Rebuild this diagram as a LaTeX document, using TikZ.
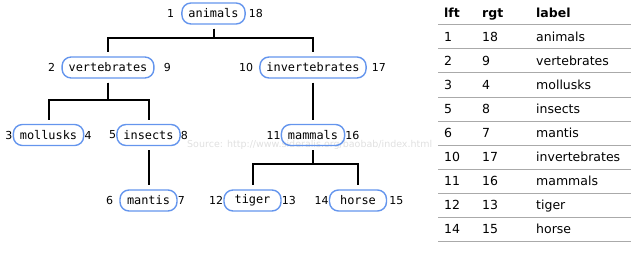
\documentclass[tikz,border=0pt]{standalone}
\usepackage{fontspec}
\setmainfont{DejaVu Sans}
\setmonofont{DejaVu Sans Mono}
\usetikzlibrary{positioning}
\definecolor{boxblue}{RGB}{100,149,237}
\definecolor{rulegray}{RGB}{170,170,170}
\tikzset{
    taxon/.style={rectangle, rounded corners=9pt, draw=boxblue, line width=1.4pt, minimum width=57pt, minimum height=21pt, inner xsep=6.5pt, font=\fontsize{11.9}{14}\ttfamily, label distance=4pt},
    branch/.style={line width=2pt, shorten <=4pt, shorten >=4pt},
    cell/.style={anchor=base west, inner sep=0pt, font=\fontsize{12.5}{15}\selectfont},
    head/.style={cell, font=\fontsize{12.5}{15}\bfseries},
    rule/.style={draw=rulegray, line width=1pt}
}

\begin{document}
\begin{tikzpicture}[x=1pt, y=-1pt, every label/.style={inner sep=0pt, font=\fontsize{11}{13}\selectfont}]
        \useasboundingbox (0,0) rectangle (632,254);

        % Watermark
        \node (src) [anchor=west, inner sep=0pt, text=black!12, font=\fontsize{9.5}{11}\selectfont] at (187,145) {Source: http://www.sideralis.org/baobab/index.html};

        % Tree nodes
        \node (animals) [taxon, label={[label distance=7pt]left:1}, label={[label distance=3pt]right:18}] at (213.5,13.5) {animals};

        \node (vertebrates) [taxon, label={[label distance=6pt]left:2}, label={[label distance=9pt]right:9}] at (108,67.5) {vertebrates};
        \node (invertebrates) [taxon, label={[label distance=6pt]left:10}, label={[label distance=5pt]right:17}] at (313,67.5) {invertebrates};

        \node (mollusks) [taxon, label=left:3, label=right:4] at (48.5,135) {mollusks};
        \node (insects) [taxon, label=left:5, label=right:8] at (148.5,135) {insects};
        \node (mammals) [taxon, label=left:11, label=right:16] at (313,135) {mammals};

        \node (mantis) [taxon, label={[label distance=6pt]left:6}, label=right:7] at (148.5,200.5) {mantis};
        \node (tiger) [taxon, label=left:12, label=right:13] at (252.5,200.5) {tiger};
        \node (horse) [taxon, label=left:14, label={[label distance=2pt]right:15}] at (358,200.5) {horse};

        % Branches
        \draw[branch] (animals.south) -- ++(0,13) -| (vertebrates.north);
        \draw[branch] (animals.south) -- ++(0,13) -| (invertebrates.north);
        \draw[branch] (vertebrates.south) -- ++(0,21) -| (mollusks.north);
        \draw[branch] (vertebrates.south) -- ++(0,21) -| (insects.north);
        \draw[branch] (invertebrates) -- (mammals);
        \draw[branch] (insects) -- (mantis);
        \draw[branch] (mammals.south) -- ++(0,18) -| (tiger.north);
        \draw[branch] (mammals.south) -- ++(0,18) -| (horse.north);

        % Table
        \node (hlft) [head] at (444,18) {lft};
        \node (hrgt) [head] at (482,18) {rgt};
        \node (hlabel) [head] at (536,18) {label};
        \foreach \l/\r/\n [count=\i] in {1/18/animals, 2/9/vertebrates, 3/4/mollusks, 5/8/insects, 6/7/mantis, 10/17/invertebrates, 11/16/mammals, 12/13/tiger, 14/15/horse} {
            \node (lft\i) [cell] at (444,{17.5+24*\i}) {\l};
            \node (rgt\i) [cell] at (482,{17.5+24*\i}) {\r};
            \node (name\i) [cell] at (536,{17.5+24*\i}) {\n};
        }
        \foreach \k in {0,...,9}
            \draw[rule] (438,{25+24*\k}) -- (631,{25+24*\k});

    \end{tikzpicture}
\end{document}
